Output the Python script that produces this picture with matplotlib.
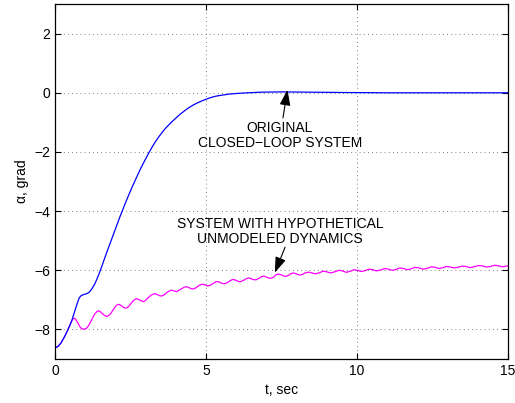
import matplotlib
matplotlib.use("Agg")
import matplotlib.pyplot as plt

plt.rcParams['font.family'] = ['Liberation Sans', 'DejaVu Sans']
plt.rcParams['axes.unicode_minus'] = True

# Curva original (lazo cerrado): pares (t, alfa)
orig_pts = [
    (0, -8.62), (0.1, -8.57), (0.2, -8.45), (0.33, -8.21), (0.45, -7.95),
    (0.55, -7.71), (0.66, -7.35), (0.74, -7.10), (0.80, -6.93), (0.86, -6.86),
    (0.92, -6.83), (0.98, -6.81), (1.05, -6.79), (1.13, -6.74), (1.21, -6.64),
    (1.32, -6.45), (1.43, -6.19), (1.55, -5.86), (1.66, -5.54), (1.77, -5.23),
    (1.88, -4.93), (1.97, -4.68), (2.05, -4.46), (2.13, -4.24), (2.21, -4.03),
    (2.3, -3.80), (2.4, -3.55), (2.5, -3.31), (2.59, -3.10), (2.72, -2.81),
    (2.85, -2.53), (2.97, -2.29), (3.09, -2.06), (3.2, -1.86), (3.3, -1.69),
    (3.42, -1.51), (3.53, -1.36), (3.65, -1.21), (3.78, -1.07), (3.9, -0.95),
    (4.03, -0.83), (4.15, -0.72), (4.25, -0.64), (4.35, -0.56), (4.47, -0.48),
    (4.6, -0.40), (4.7, -0.35), (4.85, -0.28), (4.97, -0.23), (5.1, -0.18),
    (5.2, -0.15), (5.3, -0.12), (5.46, -0.09), (5.8, -0.04), (6.2, -0.01),
    (6.8, 0.02), (7.5, 0.03), (8.5, 0.02), (9.5, 0.01), (11, 0.0), (15, 0.0),
]

# Curva con dinamica no modelada: pares (t, alfa)
unmod_pts = [
    (0, -8.62), (0.1, -8.57), (0.2, -8.45), (0.33, -8.21), (0.45, -7.95),
    (0.55, -7.71), (0.60, -7.64), (0.64, -7.62), (0.68, -7.65), (0.72, -7.72),
    (0.78, -7.83), (0.83, -7.92), (0.88, -7.97), (0.94, -7.99), (1.00, -7.98),
    (1.05, -7.95), (1.12, -7.85), (1.2, -7.70), (1.26, -7.57), (1.32, -7.47),
    (1.38, -7.40), (1.43, -7.37), (1.49, -7.39), (1.55, -7.45), (1.63, -7.52),
    (1.71, -7.56), (1.78, -7.53), (1.85, -7.45), (1.92, -7.34), (1.98, -7.25),
    (2.04, -7.18), (2.10, -7.15), (2.16, -7.17), (2.22, -7.22), (2.28, -7.26),
    (2.34, -7.28), (2.41, -7.25), (2.47, -7.18), (2.54, -7.09), (2.6, -7.02),
    (2.65, -6.98), (2.70, -6.96), (2.76, -6.98), (2.81, -7.01), (2.87, -7.04),
    (2.92, -7.06), (2.98, -7.03), (3.05, -6.96), (3.12, -6.89), (3.18, -6.84),
    (3.24, -6.81), (3.29, -6.79), (3.35, -6.80), (3.41, -6.83), (3.47, -6.86),
    (3.53, -6.87), (3.60, -6.84), (3.66, -6.79), (3.72, -6.74), (3.78, -6.70),
    (3.86, -6.67), (3.95, -6.70), (4.03, -6.72), (4.10, -6.68), (4.16, -6.64),
    (4.23, -6.60), (4.30, -6.56), (4.37, -6.56), (4.44, -6.59), (4.51, -6.62),
    (4.58, -6.63), (4.65, -6.60), (4.72, -6.55), (4.79, -6.50), (4.86, -6.47),
    (4.92, -6.48), (4.98, -6.50), (5.04, -6.52), (5.11, -6.52), (5.17, -6.49),
    (5.23, -6.45), (5.29, -6.41), (5.35, -6.38), (5.42, -6.39), (5.49, -6.42),
    (5.56, -6.45), (5.63, -6.45), (5.70, -6.42), (5.76, -6.38), (5.82, -6.34),
    (5.88, -6.31), (5.95, -6.32), (6.02, -6.35), (6.08, -6.38), (6.15, -6.38),
    (6.22, -6.35), (6.28, -6.32), (6.34, -6.28), (6.40, -6.26), (6.47, -6.27),
    (6.53, -6.30), (6.60, -6.32), (6.66, -6.32), (6.72, -6.29), (6.79, -6.25),
    (6.85, -6.21), (6.92, -6.20), (6.98, -6.22), (7.05, -6.25), (7.11, -6.27),
    (7.18, -6.26), (7.24, -6.23), (7.29, -6.18), (7.34, -6.14), (7.39, -6.13),
    (7.46, -6.14), (7.53, -6.17), (7.60, -6.20), (7.67, -6.20), (7.73, -6.17),
    (7.79, -6.13), (7.85, -6.10), (7.91, -6.09), (7.97, -6.11), (8.04, -6.14),
    (8.10, -6.16), (8.17, -6.15), (8.28, -6.09), (8.40, -6.06), (8.52, -6.09),
    (8.63, -6.12), (8.76, -6.08), (8.88, -6.03), (9.00, -6.05), (9.13, -6.09),
    (9.27, -6.05), (9.40, -6.00), (9.52, -6.02), (9.65, -6.07), (9.78, -6.03),
    (9.90, -5.98), (10.02, -6.00), (10.15, -6.04), (10.28, -6.01),
    (10.40, -5.96), (10.52, -5.98), (10.65, -6.02), (10.78, -5.99),
    (10.92, -5.94), (11.05, -5.96), (11.17, -6.00), (11.30, -5.97),
    (11.42, -5.92), (11.55, -5.94), (11.67, -5.98), (11.80, -5.95),
    (11.92, -5.90), (12.06, -5.92), (12.2, -5.96), (12.33, -5.93),
    (12.47, -5.88), (12.60, -5.90), (12.72, -5.94), (12.85, -5.91),
    (12.97, -5.87), (13.10, -5.89), (13.22, -5.92), (13.35, -5.90),
    (13.47, -5.86), (13.61, -5.87), (13.75, -5.91), (13.88, -5.88),
    (14.02, -5.84), (14.16, -5.85), (14.3, -5.89), (14.43, -5.87),
    (14.57, -5.83), (14.70, -5.85), (14.82, -5.88), (14.91, -5.87),
    (15.0, -5.85),
]

t_orig = [p[0] for p in orig_pts]
a_orig = [p[1] for p in orig_pts]
t_unmod = [p[0] for p in unmod_pts]
a_unmod = [p[1] for p in unmod_pts]

xticks = [0, 5, 10, 15]
yticks = [-8, -6, -4, -2, 0, 2]

fig = plt.figure(figsize=(5.15, 4.03), dpi=100)
ax = fig.add_axes([0.107, 0.109, 0.879, 0.881])

ax.plot(t_unmod, a_unmod, color="#ff00ff", lw=0.9)
ax.plot(t_orig, a_orig, color="#0000ff", lw=0.9)

ax.set_xlim(0, 15)
ax.set_ylim(-9, 3)
ax.set_xticks(xticks)
ax.set_yticks(yticks)
ax.tick_params(direction="in", top=True, right=True, labelsize=10, length=4)
ax.grid(True, linestyle=(0, (1, 4)), color="#555555", linewidth=0.6)
for s in ax.spines.values():
    s.set_linewidth(0.9)

ax.set_xlabel("t, sec", fontsize=10)
ax.set_ylabel("α, grad", fontsize=10)

arrow = dict(arrowstyle="-|>,head_length=0.95,head_width=0.33", color="k",
             lw=0.8, mutation_scale=10, shrinkA=0, shrinkB=0)
ax.annotate("", xy=(7.7, 0.1), xytext=(7.55, -0.85), arrowprops=arrow)
ax.text(7.45, -1.45, "ORIGINAL\nCLOSED\u2212LOOP SYSTEM", ha="center",
        va="center", fontsize=10, linespacing=1.05)
ax.annotate("", xy=(7.28, -6.08), xytext=(7.62, -5.22), arrowprops=arrow)
ax.text(7.45, -4.68, "SYSTEM WITH HYPOTHETICAL\nUNMODELED DYNAMICS", ha="center",
        va="center", fontsize=10, linespacing=1.05)

fig.savefig("out.png", dpi=100)
